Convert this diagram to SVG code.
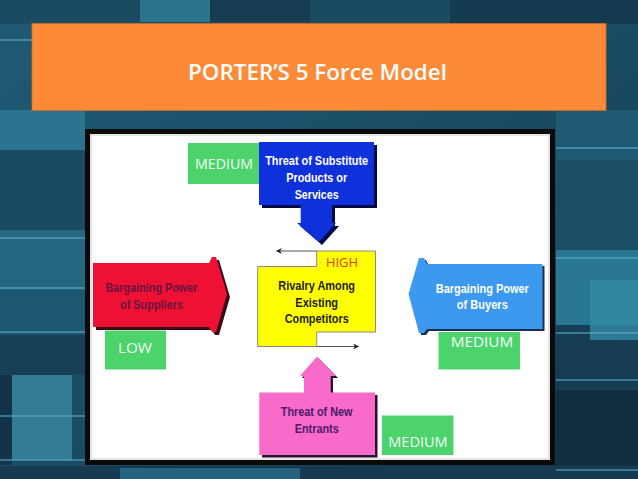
<svg xmlns="http://www.w3.org/2000/svg" width="638" height="479" viewBox="0 0 638 479">
<defs>
  <linearGradient id="bgGrad" x1="0" y1="0" x2="1" y2="1">
    <stop offset="0" stop-color="#1f5a74"/>
    <stop offset="0.5" stop-color="#1a4d66"/>
    <stop offset="1" stop-color="#123349"/>
  </linearGradient>
  <marker id="arrowHead" viewBox="0 0 10 10" refX="9" refY="5" markerWidth="6" markerHeight="6" orient="auto" markerUnits="userSpaceOnUse">
    <path d="M0,0 L10,5 L0,10 L3,5 Z" fill="#222"/>
  </marker>
  <style>
    .bold { font-family: "Liberation Sans", Arial, sans-serif; font-weight: bold; font-size: 13px; text-anchor: middle; }
    .tag { fill: #4cd36c; }
    .tagText { font-family: "Open Sans", "Liberation Sans", sans-serif; font-size: 14.5px; fill: #f4fff4; text-anchor: middle; }
    .conn { fill: none; stroke: #555; stroke-width: 1.2; marker-end: url(#arrowHead); }
    .bgline { stroke: #5fb3d0; stroke-width: 1.5; opacity: 0.7; }
  </style>
</defs>

<g id="background">
  <rect x="0" y="0" width="638" height="479" fill="url(#bgGrad)"/>
  <rect x="0" y="0" width="638" height="24" fill="#1a4b62"/>
  <rect x="140" y="0" width="70" height="22" fill="#2f7e9a" opacity="0.8"/>
  <rect x="210" y="0" width="100" height="22" fill="#14384c" opacity="0.8"/>
  <rect x="450" y="0" width="190" height="24" fill="#143a50"/>
  <rect x="0" y="110" width="85" height="40" fill="#2b7490"/>
  <rect x="0" y="150" width="85" height="80" fill="#1a4a61"/>
  <rect x="0" y="230" width="85" height="60" fill="#236780"/>
  <rect x="0" y="290" width="85" height="45" fill="#1d5670"/>
  <rect x="0" y="335" width="85" height="40" fill="#173f55"/>
  <rect x="12" y="375" width="60" height="85" fill="#3a86a0" opacity="0.8"/>
  <rect x="0" y="375" width="12" height="90" fill="#143348"/>
  <rect x="556" y="110" width="82" height="50" fill="#1f5a74"/>
  <rect x="556" y="160" width="82" height="90" fill="#1b4f68"/>
  <rect x="556" y="250" width="82" height="75" fill="#2a7792"/>
  <rect x="590" y="280" width="48" height="60" fill="#3389a6" opacity="0.8"/>
  <rect x="556" y="340" width="82" height="50" fill="#163c52"/>
  <rect x="556" y="390" width="82" height="75" fill="#112d40"/>
  <rect x="0" y="466" width="638" height="13" fill="#163a50"/>
  <rect x="120" y="468" width="180" height="11" fill="#2c7490" opacity="0.7"/>
  <line class="bgline" x1="0" y1="40" x2="32" y2="40"/>
  <line class="bgline" x1="0" y1="238" x2="85" y2="238"/>
  <line class="bgline" x1="0" y1="288" x2="85" y2="288"/>
  <line class="bgline" x1="0" y1="332" x2="85" y2="332"/>
  <line class="bgline" x1="0" y1="416" x2="85" y2="416"/>
  <line class="bgline" x1="0" y1="460" x2="85" y2="460"/>
  <line class="bgline" x1="556" y1="148" x2="638" y2="148"/>
  <line class="bgline" x1="556" y1="258" x2="638" y2="258"/>
  <line class="bgline" x1="556" y1="333" x2="638" y2="333"/>
  <line class="bgline" x1="556" y1="380" x2="638" y2="380"/>
  <line class="bgline" x1="556" y1="470" x2="638" y2="470"/>
</g>

<g id="title">
  <rect x="32" y="23.5" width="574" height="87" fill="#fd8a36" stroke="#c86a2a" stroke-width="0.8"/>
  <text x="317.5" y="80" font-family="'Open Sans', 'Liberation Sans', sans-serif" font-weight="600" font-size="21" fill="#ffffff" text-anchor="middle" textLength="259" lengthAdjust="spacingAndGlyphs">PORTER’S 5 Force Model</text>
</g>

<g id="panel">
  <rect x="87.5" y="131.5" width="465" height="331" fill="#ffffff" stroke="#0a0a0a" stroke-width="5"/>
  <rect x="91" y="135" width="458" height="324" fill="none" stroke="#bbbbbb" stroke-width="0.8"/>
</g>

<g id="medium-substitutes">
  <rect class="tag" x="188" y="143" width="71" height="41"/>
  <text class="tagText" x="224" y="169.3" textLength="58" lengthAdjust="spacingAndGlyphs">MEDIUM</text>
</g>

<g id="threat-substitutes">
  <polygon points="262,145 377,145 377,208 335,208 335,226 339,226 322,245 300,226 303.7,226 303.7,208 262,208" fill="#000a45"/>
  <polygon points="259,142 374,142 374,205 332,205 332,223 336,223 319,242 297,223 300.7,223 300.7,205 259,205" fill="#0f31dc"/>
  <text class="bold" fill="#ffffff" x="316.7" y="165" textLength="103" lengthAdjust="spacingAndGlyphs">Threat of Substitute</text>
  <text class="bold" fill="#ffffff" x="316.7" y="182" textLength="61" lengthAdjust="spacingAndGlyphs">Products or</text>
  <text class="bold" fill="#ffffff" x="316.7" y="198.5" textLength="44" lengthAdjust="spacingAndGlyphs">Services</text>
</g>

<g id="rivalry">
  <polygon points="316.7,251 375.5,251 375.5,332 316.7,332 316.7,346.5 257.7,346.5 257.7,266.5 316.7,266.5" fill="#ffff00" stroke="#8a8a8a" stroke-width="1"/>
  <text x="342" y="266.7" font-family="'Open Sans', 'Liberation Sans', sans-serif" font-size="13" fill="#e53a17" text-anchor="middle" textLength="32" lengthAdjust="spacingAndGlyphs">HIGH</text>
  <text class="bold" fill="#222222" x="316.7" y="289.5" textLength="76.7" lengthAdjust="spacingAndGlyphs">Rivalry Among</text>
  <text class="bold" fill="#222222" x="316.7" y="306.5" textLength="42.7" lengthAdjust="spacingAndGlyphs">Existing</text>
  <text class="bold" fill="#222222" x="316.7" y="323.3" textLength="64" lengthAdjust="spacingAndGlyphs">Competitors</text>
</g>

<g id="suppliers">
  <polygon points="96,266 212,266 215,260 219,260 230,297 219,335 215,335 212,330 96,330" fill="#3a0a18"/>
  <polygon points="93,263 209,263 212,257 216,257 227,294 216,332 212,332 209,327 93,327" fill="#ee1133"/>
  <text class="bold" fill="#6b1242" x="151.5" y="291.7" textLength="92" lengthAdjust="spacingAndGlyphs">Bargaining Power</text>
  <text class="bold" fill="#6b1242" x="151.5" y="308.8" textLength="63" lengthAdjust="spacingAndGlyphs">of Suppliers</text>
</g>

<g id="low-suppliers">
  <rect class="tag" x="105" y="330.5" width="61" height="39"/>
  <text class="tagText" x="135" y="353.3" textLength="34" lengthAdjust="spacingAndGlyphs">LOW</text>
</g>

<g id="medium-buyers">
  <rect class="tag" x="438.5" y="332" width="81.5" height="37.5"/>
  <text class="tagText" x="482" y="346.7" textLength="62.6" lengthAdjust="spacingAndGlyphs">MEDIUM</text>
</g>

<g id="buyers">
  <polygon points="544.5,266 429,266 426,260 421,260 410.5,296 421,335 426,335 429,331 544.5,331" fill="#1a2f50"/>
  <polygon points="542.5,264 427,264 424,258 419,258 408.5,294 419,333 424,333 427,329 542.5,329" fill="#3d98ef"/>
  <text class="bold" fill="#ffffff" x="482.3" y="292.5" textLength="93" lengthAdjust="spacingAndGlyphs">Bargaining Power</text>
  <text class="bold" fill="#ffffff" x="482.3" y="309" textLength="51" lengthAdjust="spacingAndGlyphs">of Buyers</text>
</g>

<g id="new-entrants">
  <polygon points="262,395 306,395 306,378 302,378 319,358.5 338,378 333,378 333,395 377.5,395 377.5,457.5 262,457.5" fill="#2a1030"/>
  <polygon points="259.3,392.5 304,392.5 304,376 300,376 317,356.5 336,376 330.7,376 330.7,392.5 375,392.5 375,455 259.3,455" fill="#f96bcb"/>
  <text class="bold" fill="#4a1a66" x="316.7" y="415.7" textLength="71.7" lengthAdjust="spacingAndGlyphs">Threat of New</text>
  <text class="bold" fill="#4a1a66" x="316.7" y="432.7" textLength="44" lengthAdjust="spacingAndGlyphs">Entrants</text>
</g>

<g id="medium-entrants">
  <rect class="tag" x="382" y="415.5" width="71.5" height="39.5"/>
  <text class="tagText" x="418" y="446.7" textLength="59.4" lengthAdjust="spacingAndGlyphs">MEDIUM</text>
</g>

<g id="connectors">
  <line class="conn" x1="316.7" y1="251" x2="276.5" y2="251"/>
  <line class="conn" x1="316.7" y1="346.5" x2="358.5" y2="346.5"/>
</g>
</svg>
